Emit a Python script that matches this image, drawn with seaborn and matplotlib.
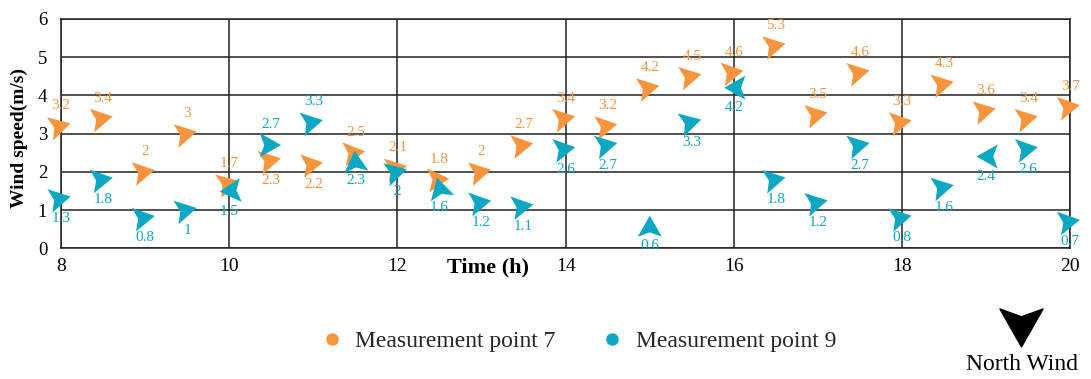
import numpy as np
import pandas as pd
import matplotlib
matplotlib.use("Agg")
import matplotlib.pyplot as plt
import seaborn as sns
from matplotlib.path import Path
from matplotlib.markers import MarkerStyle
from matplotlib.transforms import Affine2D
from matplotlib.lines import Line2D

# time of day (h), one reading every half hour
hours = [8, 8.5, 9, 9.5, 10, 10.5, 11, 11.5, 12, 12.5, 13, 13.5, 14,
         14.5, 15, 15.5, 16, 16.5, 17, 17.5, 18, 18.5, 19, 19.5, 20]

# wind speed (m/s)
speed_p7 = [3.2, 3.4, 2, 3, 1.7, 2.3, 2.2, 2.5, 2.1, 1.8, 2, 2.7, 3.4,
            3.2, 4.2, 4.5, 4.6, 5.3, 3.5, 4.6, 3.3, 4.3, 3.6, 3.4, 3.7]
speed_p9 = [1.3, 1.8, 0.8, 1, 1.5, 2.7, 3.3, 2.3, 2, 1.6, 1.2, 1.1, 2.6,
            2.7, 0.6, 3.3, 4.2, 1.8, 1.2, 2.7, 0.8, 1.6, 2.4, 2.6, 0.7]

# direction the arrow points (degrees, counter-clockwise from east)
dir_p7 = [15, 11, 11, 12, 15, 12, 10, 8, 12, 5, 12, 10, 12,
          10, 12, 12, 10, 12, 12, 12, 10, 12, 12, 12, 10]
dir_p9 = [12, 10, 10, 12, 185, 0, 12, 95, 15, 105, 10, 10, 10,
          12, 90, 15, 180, 12, 12, 12, 12, 12, 180, 10, 10]

# label above (+1) or below (-1) the arrow
side_p7 = [1, 1, 1, 1, 1, -1, -1, 1, 1, 1, 1, 1, 1,
           1, 1, 1, 1, 1, 1, 1, 1, 1, 1, 1, 1]
side_p9 = [-1, -1, -1, -1, -1, 1, 1, -1, -1, -1, -1, -1, -1,
           -1, -1, -1, -1, -1, -1, -1, -1, -1, -1, -1, -1]

names = ["Measurement point 7", "Measurement point 9"]
colors = {"Measurement point 7": "#F7943C", "Measurement point 9": "#0BA7C3"}

df7 = pd.DataFrame({"time": hours, "speed": speed_p7, "angle": dir_p7,
                    "side": side_p7, "point": names[0]})
df9 = pd.DataFrame({"time": hours, "speed": speed_p9, "angle": dir_p9,
                    "side": side_p9, "point": names[1]})
df = pd.concat([df7, df9], ignore_index=True)

# dart shaped arrow, pointing east
dart = Path([(0.85, 0), (-1, 1.05), (-0.62, 0), (-1, -1.05), (0.85, 0)],
            [Path.MOVETO, Path.LINETO, Path.LINETO, Path.LINETO, Path.CLOSEPOLY])


def arrow(angle):
    return MarkerStyle(dart, transform=Affine2D().rotate_deg(angle))


markers = {a: arrow(a) for a in sorted(df["angle"].unique())}

sns.set_theme(style="whitegrid")
plt.rcParams["font.family"] = ["Liberation Serif", "DejaVu Serif"]

fig = plt.figure(figsize=(10.91, 3.79), dpi=100)
ax = fig.add_axes([0.056, 0.345, 0.925, 0.605])

sns.scatterplot(data=df, x="time", y="speed", hue="point", palette=colors,
                style="angle", markers=markers, s=300, linewidth=0,
                legend=False, ax=ax, zorder=3, clip_on=False)

# value labels
for _, r in df.iterrows():
    ax.annotate(f"{r['speed']:g}", (r["time"], r["speed"]),
                xytext=(0, 14.5 * r["side"]), textcoords="offset points",
                ha="center", va="center", fontsize=11,
                color=colors[r["point"]], zorder=4, annotation_clip=False)

ax.set_xlim(8, 20)
ax.set_ylim(0, 6)
ax.set_xticks(range(8, 21, 2))
ax.set_yticks(range(0, 7))
ax.grid(True, color="#222222", linewidth=1.1)
for s in ax.spines.values():
    s.set_visible(True)
    s.set_color("#222222")
    s.set_linewidth(1.1)
ax.tick_params(axis="x", length=0, pad=7, labelsize=14, colors="black")
ax.tick_params(axis="y", length=0, pad=10, labelsize=13.5, colors="black")

ax.set_xlabel("Time (h)", fontsize=16, fontweight="bold", color="black")
ax.xaxis.set_label_coords(0.423, -0.04)
ax.set_ylabel("Wind speed(m/s)", fontsize=14, fontweight="bold", color="black")
ax.yaxis.set_label_coords(-0.033, 0.48)

handles = [Line2D([0], [0], marker="o", linestyle="none", markersize=9,
                  markerfacecolor=colors[n], markeredgewidth=0) for n in names]
fig.legend(handles, names, loc="center", bbox_to_anchor=(0.531, 0.1),
           ncol=2, frameon=False, fontsize=17, handlelength=0.8,
           handletextpad=0.6, columnspacing=2.0)

# north wind key
fig.add_artist(Line2D([1021 / 1091], [1 - 329 / 379], transform=fig.transFigure,
                      marker=arrow(-90), markersize=31, color="black",
                      linestyle="none"))
fig.text(1022 / 1091, 1 - 365 / 379, "North Wind", ha="center", va="center",
         fontsize=17, color="black")

plt.savefig("out.png", dpi=100)
